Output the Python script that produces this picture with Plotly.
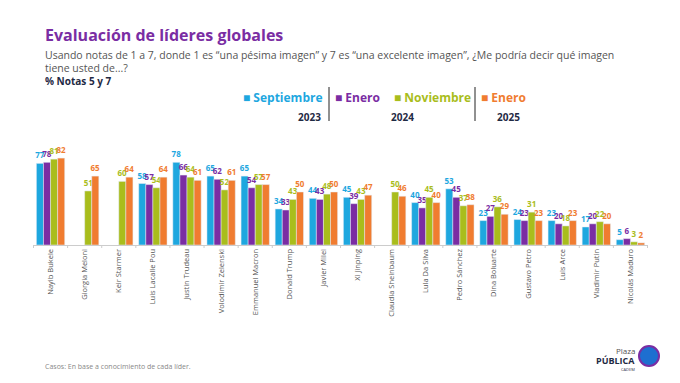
import plotly.graph_objects as go

categories = ["Nayib Bukele", "Giorgia Meloni", "Keir Starmer", "Luis Lacalle Pou", "Justin Trudeau",
              "Volodimir Zelenski", "Emmanuel Macron", "Donald Trump", "Javier Milei", "Xi Jinping",
              "Claudia Sheinbaum", "Lula Da Silva", "Pedro Sánchez", "Dina Boluarte", "Gustavo Petro",
              "Luis Arce", "Vladimir Putin", "Nicolás Maduro"]
sep_2023 = [77, None, None, 58, 78, 65, 65, 34, 44, 45, None, 40, 53, 23, 24, 23, 17, 5]
ene_2024 = [78, None, None, 57, 66, 62, 54, 33, 43, 39, None, 35, 45, 27, 23, 20, 20, 6]
nov_2024 = [81, 51, 60, 54, 64, 52, 57, 43, 48, 43, 50, 45, 37, 36, 31, 18, 22, 3]
ene_2025 = [82, 65, 64, 64, 61, 61, 57, 50, 50, 47, 46, 40, 38, 29, 23, 23, 20, 2]
series_names = ["Septiembre 2023", "Enero 2024", "Noviembre 2024", "Enero 2025"]
colors = ["#1ea7df", "#7a2da3", "#a9bd1c", "#f07c30"]

FONT = "Open Sans"
fig = go.Figure()
for name, vals, col in zip(series_names, [sep_2023, ene_2024, nov_2024, ene_2025], colors):
    fig.add_trace(go.Bar(
        x=categories, y=vals, name=name, marker_color=col,
        text=[("" if v is None else f"<b>{v}</b>") for v in vals],
        textposition="outside", cliponaxis=False,
        textfont=dict(color=col, size=8, family=FONT),
        hoverinfo="x+y",
    ))

W, H = 680, 383
x0, x1 = 33, 648
y_top, y_bot = 139, 245
fig.update_layout(
    width=W, height=H, barmode="group", bargap=0.17, bargroupgap=0,
    showlegend=False, plot_bgcolor="white", paper_bgcolor="white",
    margin=dict(l=0, r=0, t=0, b=0),
    font=dict(family=FONT, color="#555"),
    uniformtext=dict(minsize=7, mode="show"),
    xaxis=dict(domain=[x0 / W, x1 / W], showline=True, linecolor="#cccccc", linewidth=1,
               ticks="", tickangle=-90, tickfont=dict(size=7.5, color="#555", family=FONT),
               showgrid=False, fixedrange=True),
    yaxis=dict(domain=[1 - y_bot / H, 1 - y_top / H], range=[0, 100], visible=False,
               showgrid=False, fixedrange=True),
)

# tick separators between groups
n = len(categories)
for i in range(n + 1):
    fig.add_shape(type="line", xref="x", yref="paper", x0=i - 0.5, x1=i - 0.5,
                  y0=1 - y_bot / H, y1=1 - (y_bot + 3) / H, line=dict(color="#cccccc", width=1))

def px(xp):
    return xp / W

def py(yp):
    return 1 - yp / H

ann = []
ann.append(dict(text="<b>Evaluación de líderes globales</b>", x=px(43), y=py(35), xanchor="left", yanchor="middle",
                font=dict(size=16, color="#7a2da3", family=FONT)))
ann.append(dict(text="Usando notas de 1 a 7, donde 1 es “una pésima imagen” y 7 es “una excelente imagen”, ¿Me podría decir qué imagen",
                x=px(43), y=py(55), xanchor="left", yanchor="middle", font=dict(size=10.5, color="#555", family=FONT)))
ann.append(dict(text="tiene usted de...?", x=px(43), y=py(68), xanchor="left", yanchor="middle",
                font=dict(size=10.5, color="#555", family=FONT)))
ann.append(dict(text="<b>% Notas 5 y 7</b>", x=px(43), y=py(81), xanchor="left", yanchor="middle",
                font=dict(size=10, color="#1f2a44", family=FONT)))

# custom legend
leg = [("Septiembre", colors[0], 241), ("Enero", colors[1], 333), ("Noviembre", colors[2], 392), ("Enero", colors[3], 479)]
for label, col, xl in leg:
    ann.append(dict(text=f"<b>■ {label}</b>", x=px(xl), y=py(97), xanchor="left", yanchor="middle",
                    font=dict(size=12, color=col, family=FONT)))
for yr, xc, anchor in [("2023", 323, "right"), ("2024", 402, "center"), ("2025", 522, "right")]:
    ann.append(dict(text=f"<b>{yr}</b>", x=px(xc), y=py(117), xanchor=anchor, yanchor="middle",
                    font=dict(size=10, color="#1f2a44", family=FONT)))
for xs in [329, 475]:
    fig.add_shape(type="line", xref="paper", yref="paper", x0=px(xs), x1=px(xs), y0=py(87), y1=py(121),
                  line=dict(color="#222", width=1))

ann.append(dict(text="Casos: En base a conocimiento de cada líder.", x=px(43), y=py(366), xanchor="left", yanchor="middle",
                font=dict(size=7, color="#888", family=FONT)))
# logo approximation
ann.append(dict(text="Plaza", x=px(637), y=py(350), xanchor="right", yanchor="middle",
                font=dict(size=8, color="#555", family=FONT)))
ann.append(dict(text="<b>PÚBLICA</b>", x=px(637), y=py(360), xanchor="right", yanchor="middle",
                font=dict(size=9, color="#1f2a44", family=FONT)))
ann.append(dict(text="CADEM", x=px(637), y=py(369), xanchor="right", yanchor="middle",
                font=dict(size=4, color="#1f2a44", family=FONT)))
fig.add_shape(type="circle", xref="paper", yref="paper", x0=px(639), x1=px(659), y0=py(366), y1=py(346),
              fillcolor="#1e6fd0", line=dict(color="#7a2da3", width=2))
for a in ann:
    a.update(xref="paper", yref="paper", showarrow=False)
fig.update_layout(annotations=ann)

fig.write_html("out.html", config={"displayModeBar": False},
               post_script="document.body.style.margin='0';document.body.style.overflow='hidden';")
